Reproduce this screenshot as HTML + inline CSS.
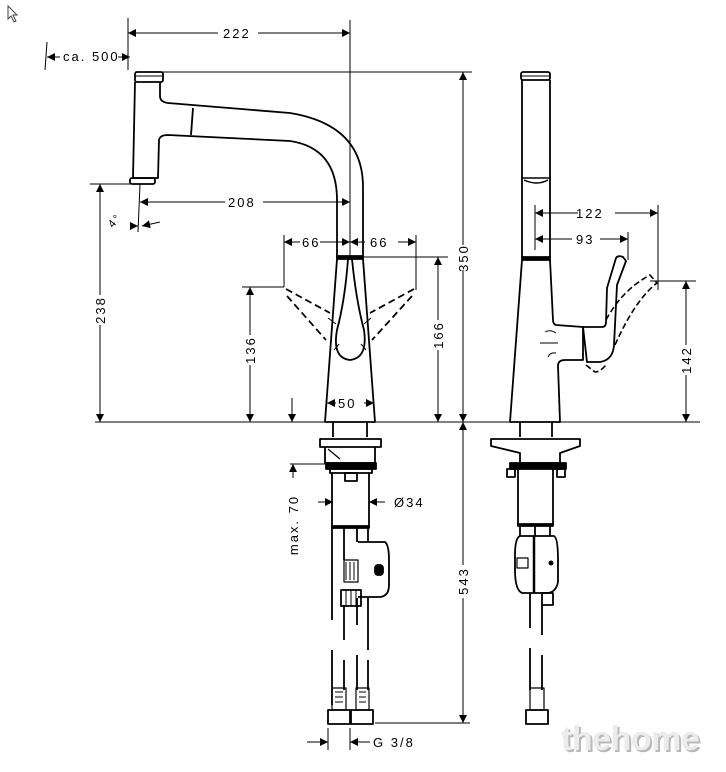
<!DOCTYPE html>
<html><head><meta charset="utf-8"><style>
html,body{margin:0;padding:0;background:#fff;}
svg{display:block;}
text{font-family:"Liberation Sans",sans-serif;font-size:13px;fill:#000;letter-spacing:2px;}
.wm{font-family:"Liberation Sans",sans-serif;font-weight:bold;font-size:34px;fill:#ececec;letter-spacing:-0.5px;}
</style></head><body>
<svg width="726" height="772" viewBox="0 0 726 772" xmlns="http://www.w3.org/2000/svg">
<defs>
<marker id="a" viewBox="0 0 10 10" refX="10" refY="5" markerWidth="10" markerHeight="8" markerUnits="userSpaceOnUse" orient="auto-start-reverse"><path d="M0,0L10,5L0,10z" fill="#000"/></marker>
</defs>
<path d="M8,6 L8,19 L11,16 L14,22 L16,21 L13,15 L17,15 Z" fill="#fff" stroke="#444" stroke-width="1"/>

<g stroke="#000" stroke-width="1" fill="none">
<line x1="128" y1="18" x2="128" y2="70"/>
<line x1="350" y1="20" x2="350" y2="258"/>
<line x1="47" y1="42" x2="45" y2="70"/>
<line x1="135" y1="72" x2="472" y2="72"/>
<line x1="90" y1="184" x2="132" y2="184"/>
<line x1="140" y1="184" x2="138" y2="232"/>
<line x1="95" y1="422" x2="700" y2="422"/>
<line x1="284" y1="235" x2="284" y2="287"/>
<line x1="242" y1="287" x2="284" y2="287"/>
<line x1="416" y1="235" x2="416" y2="290"/>
<line x1="363" y1="257" x2="448" y2="257"/>
<line x1="535" y1="205" x2="535" y2="250"/>
<line x1="658" y1="205" x2="658" y2="290"/>
<line x1="628" y1="232" x2="628" y2="260"/>
<line x1="650" y1="281" x2="696" y2="281"/>
<line x1="290" y1="464" x2="330" y2="464"/>
<line x1="375" y1="723" x2="470" y2="723"/>
<line x1="328" y1="728" x2="328" y2="750"/>
<line x1="350" y1="728" x2="350" y2="750"/>

<line x1="128" y1="33" x2="218" y2="33" marker-start="url(#a)"/>
<line x1="258" y1="33" x2="350" y2="33" marker-end="url(#a)"/>
<line x1="47" y1="57" x2="60" y2="57" marker-start="url(#a)"/>
<line x1="118" y1="57" x2="130" y2="57" marker-end="url(#a)"/>
<line x1="463" y1="72" x2="463" y2="245" marker-start="url(#a)"/>
<line x1="463" y1="270" x2="463" y2="422" marker-end="url(#a)"/>
<line x1="100" y1="184" x2="100" y2="295" marker-start="url(#a)"/>
<line x1="100" y1="325" x2="100" y2="422" marker-end="url(#a)"/>
<line x1="140" y1="202" x2="225" y2="202" marker-start="url(#a)"/>
<line x1="263" y1="202" x2="350" y2="202" marker-end="url(#a)"/>
<line x1="130" y1="226" x2="138" y2="226" marker-end="url(#a)"/>
<line x1="160" y1="222" x2="142" y2="226" marker-end="url(#a)"/>
<line x1="284" y1="242" x2="300" y2="242" marker-start="url(#a)"/>
<line x1="320" y1="242" x2="350" y2="242" marker-end="url(#a)"/>
<line x1="350" y1="242" x2="365" y2="242" marker-start="url(#a)"/>
<line x1="398" y1="242" x2="416" y2="242" marker-end="url(#a)"/>
<line x1="250" y1="287" x2="250" y2="335" marker-start="url(#a)"/>
<line x1="250" y1="365" x2="250" y2="422" marker-end="url(#a)"/>
<line x1="438" y1="257" x2="438" y2="320" marker-start="url(#a)"/>
<line x1="438" y1="350" x2="438" y2="422" marker-end="url(#a)"/>
<line x1="292" y1="398" x2="292" y2="422" marker-end="url(#a)"/>
<line x1="327" y1="403" x2="336" y2="403" marker-start="url(#a)"/>
<line x1="364" y1="403" x2="374" y2="403" marker-end="url(#a)"/>
<line x1="535" y1="213" x2="578" y2="213" marker-start="url(#a)"/>
<line x1="615" y1="213" x2="658" y2="213" marker-end="url(#a)"/>
<line x1="535" y1="239" x2="572" y2="239" marker-start="url(#a)"/>
<line x1="600" y1="239" x2="628" y2="239" marker-end="url(#a)"/>
<line x1="686" y1="281" x2="686" y2="345" marker-start="url(#a)"/>
<line x1="686" y1="375" x2="686" y2="422" marker-end="url(#a)"/>
<line x1="463" y1="422" x2="463" y2="565" marker-start="url(#a)"/>
<line x1="463" y1="598" x2="463" y2="723" marker-end="url(#a)"/>
<line x1="293" y1="464" x2="293" y2="478" marker-start="url(#a)"/>
<line x1="318" y1="502" x2="333" y2="502" marker-end="url(#a)"/>
<line x1="385" y1="502" x2="369" y2="502" marker-end="url(#a)"/>
<line x1="307" y1="742" x2="328" y2="742" marker-end="url(#a)"/>
<line x1="370" y1="742" x2="350" y2="742" marker-end="url(#a)"/>
</g>

<text x="223" y="38">222</text>
<text x="63" y="61">ca. 500</text>
<text x="228" y="207">208</text>
<text x="302" y="247">66</text>
<text x="370" y="247">66</text>
<text x="338" y="408" >50</text>
<text x="576" y="218">122</text>
<text x="576" y="244">93</text>
<text x="394" y="507">Ø34</text>
<text x="373" y="747">G 3/8</text>
<text x="108" y="226" transform="rotate(-50 113 222)" style="font-size:11px">4°</text>
<text transform="translate(468,258) rotate(-90)" text-anchor="middle">350</text>
<text transform="translate(105,310) rotate(-90)" text-anchor="middle">238</text>
<text transform="translate(255,350) rotate(-90)" text-anchor="middle">136</text>
<text transform="translate(443,335) rotate(-90)" text-anchor="middle">166</text>
<text transform="translate(691,360) rotate(-90)" text-anchor="middle">142</text>
<text transform="translate(468,581) rotate(-90)" text-anchor="middle">543</text>
<text transform="translate(298,525) rotate(-90)" text-anchor="middle">max. 70</text>

<g stroke="#000" stroke-width="1.8" fill="none" stroke-linejoin="round">
<rect x="135" y="72" width="28" height="10" rx="2"/>
<line x1="135" y1="76" x2="163" y2="76" stroke-width="1"/>
<path d="M135,82 L133,178 L158,178 L159,140 Q160,135 168,135 L290,141 Q337,148 337,200 L337,258"/>
<path d="M160,82 L160,96 Q160,102 168,103 L290,113 Q363,125 363,187 L363,258"/>
<line x1="193" y1="108" x2="191" y2="135"/>
<rect x="130" y="178" width="25" height="6" rx="2"/>
<rect x="337" y="256" width="26" height="3" fill="#000"/>
<path d="M337,259 L325,422 L375,422 L363,259"/>
<path d="M348,259 Q345,300 337,330 Q332,358 350,360 Q368,358 364,330 Q356,300 352,259"/>
<path d="M328,318 L336,324 M371,318 L364,324 M334,350 L339,344 M366,350 L361,344" stroke-width="1"/>
<line x1="333" y1="422" x2="333" y2="437"/><line x1="367" y1="422" x2="367" y2="437"/>
<g stroke-dasharray="7,4" stroke-width="1.8">
<line x1="286" y1="289" x2="330" y2="313"/>
<line x1="287" y1="296" x2="326" y2="340"/>
<line x1="414" y1="289" x2="370" y2="313"/>
<line x1="412" y1="296" x2="372" y2="340"/>
</g>
<rect x="320" y="439" width="61" height="8"/>
<path d="M325,447 L325,463 L375,463 L375,447"/>
<line x1="328" y1="449" x2="340" y2="459" stroke-width="1.2"/>
<rect x="326" y="463" width="50" height="6" fill="#000"/>
<rect x="330" y="469" width="42" height="4"/>
<rect x="345" y="473" width="12" height="8"/>
<path d="M332,473 L332,527 L369,527 L369,473"/>
<rect x="332" y="526" width="37" height="2" fill="#000"/>
<line x1="332" y1="528" x2="332" y2="620"/><line x1="332" y1="650" x2="332" y2="705"/>
<line x1="344" y1="528" x2="344" y2="560"/><line x1="344" y1="605" x2="344" y2="640"/><line x1="344" y1="660" x2="344" y2="690"/>
<line x1="357" y1="528" x2="357" y2="542"/><line x1="357" y1="598" x2="357" y2="625"/><line x1="357" y1="655" x2="357" y2="690"/>
<line x1="368" y1="528" x2="368" y2="542"/><line x1="368" y1="598" x2="368" y2="650"/><line x1="368" y1="660" x2="368" y2="690"/>
<path d="M358,542 L385,542 Q389,545 389,560 L389,585 Q389,596 380,597 L358,597"/>
<rect x="375" y="565" width="8" height="10" rx="3" fill="#000"/>
<rect x="344" y="560" width="14" height="22" stroke-width="1.2"/>
<path d="M346,562 L346,580 M350,562 L350,580 M354,562 L354,580" stroke-width="1"/>
<rect x="341" y="590" width="20" height="16"/>
<path d="M346,590 L346,606 M351,590 L351,606 M356,590 L356,606" stroke-width="1"/>
<rect x="332" y="688" width="14" height="22" stroke-width="1.2"/>
<path d="M335,692 L343,692 M335,697 L343,697 M335,702 L343,702 M359,692 L366,692 M359,697 L366,697 M359,702 L366,702" stroke-width="1"/>
<rect x="356" y="688" width="13" height="22" stroke-width="1.2"/>
<rect x="328" y="710" width="22" height="14"/>
<rect x="351" y="710" width="22" height="14"/>

<rect x="521" y="72" width="29" height="8" rx="2"/>
<line x1="521" y1="76" x2="550" y2="76" stroke-width="1"/>
<path d="M522,80 L522,258 M550,80 L550,258"/>
<path d="M522,178 L550,178 M524,180 Q537,186 548,180" stroke-width="1.5"/>
<rect x="522" y="257" width="28" height="3" fill="#000"/>
<path d="M522,260 L510,422 L560,422 L558,366 Q558,360 565,360 L583,360 L583,327 L556,325 Q553,324 553,320 L550,260"/>
<path d="M583,327 L602,327 Q606,327 606,322 L607,288 L616,258 Q618,255 623,257 L626,261 L617,285 L614,345 Q613,360 600,362 L587,362 Z"/>
<g stroke-dasharray="6,3" stroke-width="1.6">
<path d="M606,320 Q622,290 650,275 L657,283 Q635,300 615,345"/>
<path d="M586,365 L595,372 Q600,372 606,365"/>
</g>
<path d="M545,332 Q550,329 556,333 M540,343 L558,343 M548,357 Q550,352 556,353" stroke-width="1"/>
<line x1="520" y1="422" x2="520" y2="437"/><line x1="552" y1="422" x2="552" y2="437"/>
<path d="M491,439 L580,439 L580,446 L560,453 L560,463 L520,463 L520,453 L491,446 Z"/>
<rect x="510" y="463" width="56" height="6" fill="#000"/>
<rect x="507" y="469" width="8" height="8"/><rect x="557" y="469" width="8" height="8"/>
<path d="M518,469 L518,525 L553,525 L553,469"/>
<rect x="518" y="524" width="35" height="2" fill="#000"/>
<path d="M520,526 L520,536 M535,526 L535,536 M550,526 L550,536"/>
<path d="M520,536 L554,536 Q558,538 558,560 L558,582 Q556,592 548,593 L522,593 Q515,590 515,570 L515,555 Q515,538 520,536 Z"/>
<line x1="534" y1="536" x2="534" y2="593" stroke-width="2.5"/>
<rect x="517" y="558" width="11" height="10" stroke-width="1.2"/>
<circle cx="551" cy="563" r="1.6" fill="#000"/>
<rect x="542" y="593" width="11" height="12"/>
<line x1="530" y1="593" x2="530" y2="628"/><line x1="530" y1="648" x2="530" y2="690"/>
<line x1="542" y1="605" x2="542" y2="635"/><line x1="542" y1="655" x2="542" y2="690"/>
<rect x="530" y="688" width="14" height="22" stroke-width="1.2"/>
<rect x="526" y="710" width="22" height="14"/>
</g>

<text class="wm" x="561" y="750" style="fill:#b8b8b8" dx="2" dy="2">thehome</text>
<text class="wm" x="561" y="750">thehome</text>
</svg>
</body></html>
